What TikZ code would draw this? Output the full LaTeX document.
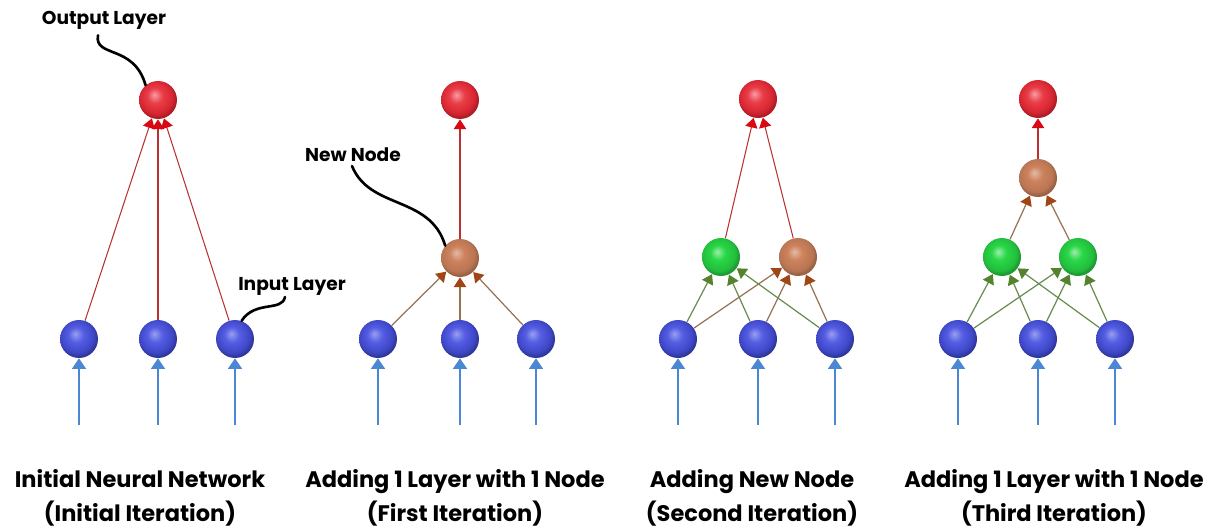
\documentclass[tikz,border=0pt]{standalone}
\usepackage{fontspec}
\setmainfont{Poppins}
\usetikzlibrary{arrows.meta}

\definecolor{outred}{RGB}{232,40,52}
\definecolor{newbrown}{RGB}{205,130,92}
\definecolor{hidgreen}{RGB}{40,215,70}
\definecolor{inblue}{RGB}{70,80,225}
\definecolor{redlink}{RGB}{185,50,50}
\definecolor{redtip}{RGB}{215,10,20}
\definecolor{brownlink}{RGB}{150,115,85}
\definecolor{browntip}{RGB}{160,70,20}
\definecolor{greenlink}{RGB}{105,140,80}
\definecolor{greentip}{RGB}{85,130,45}
\definecolor{bluelink}{RGB}{75,135,210}

% soft spheres, lighter than the default ball shading
\pgfdeclareradialshading{redball}{\pgfpoint{-5bp}{7bp}}{color(0bp)=(outred!45!white); color(10bp)=(outred!90!white); color(22bp)=(outred!92!black); color(26bp)=(outred!75!black); color(50bp)=(outred!75!black)}
\pgfdeclareradialshading{brownball}{\pgfpoint{-5bp}{7bp}}{color(0bp)=(newbrown!55!white); color(10bp)=(newbrown); color(22bp)=(newbrown!90!black); color(26bp)=(newbrown!75!black); color(50bp)=(newbrown!75!black)}
\pgfdeclareradialshading{greenball}{\pgfpoint{-5bp}{7bp}}{color(0bp)=(hidgreen!45!white); color(10bp)=(hidgreen); color(22bp)=(hidgreen!88!black); color(26bp)=(hidgreen!72!black); color(50bp)=(hidgreen!72!black)}
\pgfdeclareradialshading{blueball}{\pgfpoint{-5bp}{7bp}}{color(0bp)=(inblue!55!white); color(10bp)=(inblue!92!white); color(22bp)=(inblue!88!black); color(26bp)=(inblue!70!black); color(50bp)=(inblue!70!black)}

\tikzset{
  ball/.style={circle, inner sep=0pt, minimum size=0.76cm},
  outnode/.style={ball, shading=redball},
  newnode/.style={ball, shading=brownball},
  hidnode/.style={ball, shading=greenball},
  innode/.style={ball, shading=blueball},
  tiptri/.style={-{Triangle[length=5.5pt,width=7pt,#1]}},
  toout/.style={draw=redlink, line width=0.6pt, tiptri={fill=redtip,color=redtip}},
  tonew/.style={draw=brownlink, line width=0.7pt, tiptri={fill=browntip,color=browntip}},
  tohid/.style={draw=greenlink, line width=0.7pt, tiptri={fill=greentip,color=greentip}},
  toin/.style={draw=bluelink, line width=0.8pt, -{Triangle[length=6pt,width=8pt]}},
  pointer/.style={line width=1.5pt, line cap=round},
  lbl/.style={font=\fontsize{10.6}{12}\selectfont\bfseries},
  title/.style={font=\fontsize{12.8}{19}\selectfont\bfseries, align=center}
}

\begin{document}
\begin{tikzpicture}[x=0.02cm,y=-0.02cm]

\useasboundingbox (0,0) rectangle (1221,531);

% input layers of the four networks, with their feeding arrows
\foreach \p/\a/\b/\c in {1/79/158/235, 2/378/460/536, 3/678/758/835, 4/958/1038/1115}{
  \node[innode] (i\p1) at (\a,339) {};
  \node[innode] (i\p2) at (\b,339) {};
  \node[innode] (i\p3) at (\c,339) {};
  \coordinate (s\p1) at (\a,425);
  \coordinate (s\p2) at (\b,425);
  \coordinate (s\p3) at (\c,425);
  \draw[toin] (s\p1) -- (i\p1);
  \draw[toin] (s\p2) -- (i\p2);
  \draw[toin] (s\p3) -- (i\p3);
}

% initial network
\node[outnode] (o1) at (158,100) {};
\foreach \k in {1,2,3}
  \draw[toout] (i1\k) -- (o1);

% first iteration
\node[outnode] (o2) at (460,100) {};
\node[newnode] (n2) at (460,258) {};
\foreach \k in {1,2,3}
  \draw[tonew] (i2\k) -- (n2);
\draw[toout] (n2) -- (o2);

% second iteration
\node[outnode] (o3) at (758,99) {};
\node[hidnode] (h3) at (721,257) {};
\node[newnode] (n3) at (798,257) {};
\foreach \k in {1,2,3}{
  \draw[tohid] (i3\k) -- (h3);
  \draw[tonew] (i3\k) -- (n3);
}
\draw[toout] (h3) -- (o3);
\draw[toout] (n3) -- (o3);

% third iteration
\node[outnode] (o4) at (1038,99) {};
\node[newnode] (n4) at (1038,178) {};
\node[hidnode] (h4a) at (1002,257) {};
\node[hidnode] (h4b) at (1078,257) {};
\foreach \k in {1,2,3}{
  \draw[tohid] (i4\k) -- (h4a);
  \draw[tohid] (i4\k) -- (h4b);
}
\draw[tonew] (h4a) -- (n4);
\draw[tonew] (h4b) -- (n4);
\draw[toout] (n4) -- (o4);

% callouts
\node[lbl] (lout) at (104,20) {Output Layer};
\draw[pointer] (lout.south) ++(-6,0) .. controls (94,58) and (134,44) .. (o1.130);

\node[lbl] (lnew) at (353,155) {New Node};
\draw[pointer] (352,166) .. controls (370,210) and (430,195) .. (n2.140);

\node[lbl] (lin) at (292,286) {Input Layer};
\draw[pointer] (285,297) .. controls (282,312) and (255,300) .. (i13.70);

% titles
\node[title] (t1) at (140,498) {Initial Neural Network\\(Initial Iteration)};
\node[title] (t2) at (455,498) {Adding 1 Layer with 1 Node\\(First Iteration)};
\node[title] (t3) at (752,498) {Adding New Node\\(Second Iteration)};
\node[title] (t4) at (1054,498) {Adding 1 Layer with 1 Node\\(Third Iteration)};

\end{tikzpicture}
\end{document}
